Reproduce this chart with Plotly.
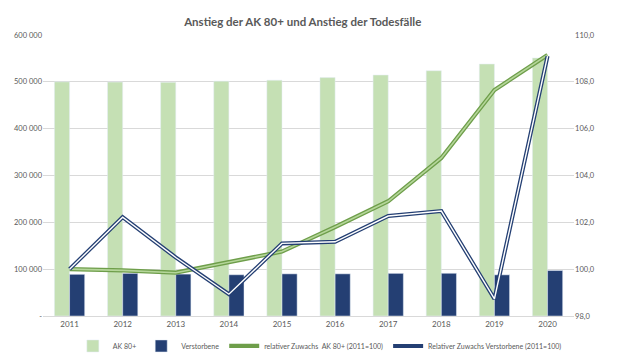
import plotly.graph_objects as go
from plotly.subplots import make_subplots

years = ["2011", "2012", "2013", "2014", "2015", "2016", "2017", "2018", "2019", "2020"]
ak80 = [500000, 499500, 499000, 501500, 503500, 509000, 514500, 523700, 538000, 551000]
verstorbene = [89000, 90980, 89450, 88050, 89980, 90040, 91020, 91210, 87870, 97100]
rel_ak80 = [100.0, 99.95, 99.85, 100.3, 100.75, 101.8, 102.9, 104.75, 107.65, 109.15]
rel_verst = [100.0, 102.22, 100.5, 98.93, 101.1, 101.17, 102.27, 102.48, 98.73, 109.1]

left_ticks = [0, 100000, 200000, 300000, 400000, 500000, 600000]
left_text = ["-", "100 000", "200 000", "300 000", "400 000", "500 000", "600 000"]
right_ticks = [98, 100, 102, 104, 106, 108, 110]
right_text = ["98,0", "100,0", "102,0", "104,0", "106,0", "108,0", "110,0"]

GREEN_BAR = "#C5E0B4"
NAVY = "#243F73"
GREEN_DARK = "#6E9E4A"
GREEN_LIGHT = "#B5D69A"
TXT = "#595959"
FONT = "Lato"

fig = make_subplots(specs=[[{"secondary_y": True}]])
fig.add_trace(go.Bar(x=years, y=ak80, name="AK 80+", marker_color=GREEN_BAR), secondary_y=False)
fig.add_trace(go.Bar(x=years, y=verstorbene, name="Verstorbene", marker_color=NAVY), secondary_y=False)

fig.add_trace(go.Scatter(x=years, y=rel_ak80, mode="lines", name="relativer Zuwachs  AK 80+ (2011=100)",
                         line=dict(color=GREEN_DARK, width=4.2)), secondary_y=True)
fig.add_trace(go.Scatter(x=years, y=rel_ak80, mode="lines", showlegend=False, hoverinfo="skip",
                         line=dict(color=GREEN_LIGHT, width=1.6)), secondary_y=True)
fig.add_trace(go.Scatter(x=years, y=rel_verst, mode="lines", name="Relativer Zuwachs Verstorbene (2011=100)",
                         line=dict(color=NAVY, width=4)), secondary_y=True)
fig.add_trace(go.Scatter(x=years, y=rel_verst, mode="lines", showlegend=False, hoverinfo="skip",
                         line=dict(color="white", width=1.4)), secondary_y=True)

fig.update_layout(
    width=640, height=358,
    margin=dict(l=43, r=32, t=35, b=42, autoexpand=False),
    paper_bgcolor="white", plot_bgcolor="white",
    barmode="group", bargap=0.43, bargroupgap=0,
    font=dict(family=FONT, size=8, color=TXT),
    title=dict(text="<b>Anstieg der AK 80+ und Anstieg der Todesfälle</b>", x=0.473, xanchor="center",
               y=0.94, yanchor="middle", font=dict(family=FONT, size=11.5, color=TXT)),
    legend=dict(orientation="h", x=0.49, xanchor="center", y=-0.055, yanchor="top",
                font=dict(family=FONT, size=7, color=TXT), traceorder="normal", itemwidth=30),
)
fig.update_xaxes(showgrid=False, showline=True, linecolor="#D9D9D9", ticks="", automargin=False,
                 tickfont=dict(size=8, color=TXT))
fig.update_yaxes(range=[0, 600000], tickvals=left_ticks, ticktext=left_text, showgrid=True,
                 gridcolor="#D9D9D9", zeroline=False, showline=False, ticks="", automargin=False,
                 tickfont=dict(size=7.5, color=TXT), secondary_y=False)
fig.update_yaxes(range=[98, 110], tickvals=right_ticks, ticktext=right_text, showgrid=False,
                 zeroline=False, showline=False, ticks="", automargin=False,
                 tickfont=dict(size=7.5, color=TXT), secondary_y=True)

fig.write_html("out.html", config={"displayModeBar": False},
               post_script="document.body.style.margin='0';")
